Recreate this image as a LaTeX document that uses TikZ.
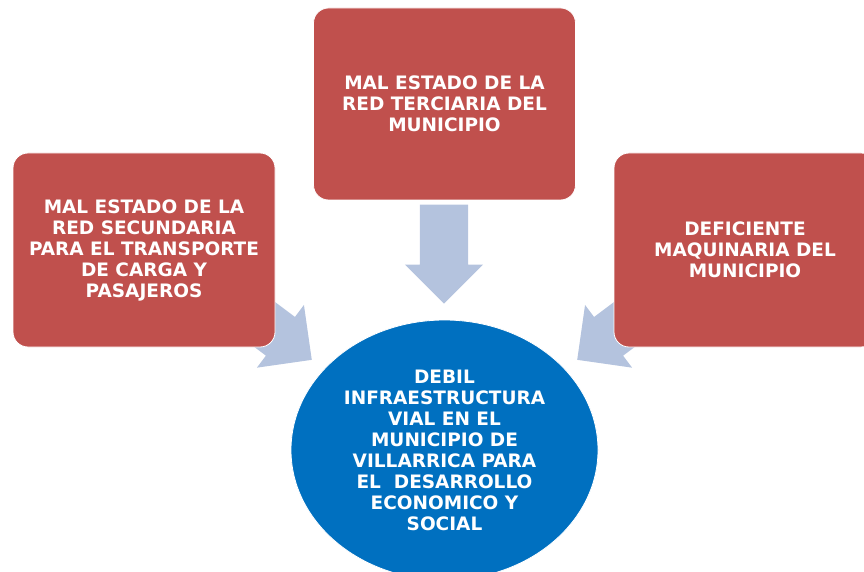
\documentclass[tikz,border=0pt]{standalone}
\usepackage{fontspec}
\setmainfont{DejaVu Sans}
\usetikzlibrary{shapes.geometric}
\usetikzlibrary{shapes.arrows}
\definecolor{boxred}{HTML}{C0504D}
\definecolor{ellblue}{HTML}{0070C0}
\definecolor{arrblue}{HTML}{B4C3DE}

\begin{document}
\begin{tikzpicture}[x=1pt,y=1pt]
			\tikzset{
				causenode/.style={rectangle, rounded corners=15pt, draw=white, thick, fill=boxred, text=white, inner sep=0pt, minimum width=262pt, minimum height=194pt, align=center, font=\bfseries\fontsize{18.5}{21}\selectfont},
				effectnode/.style={ellipse, draw=white, thick, fill=ellblue, text=white, inner sep=0pt, minimum width=307pt, minimum height=260pt, align=center, font=\bfseries\fontsize{18.5}{21}\selectfont},
				blockarrow/.style={single arrow, fill=arrblue, inner xsep=0pt, inner ysep=24pt, minimum height=99pt, minimum width=78pt, single arrow head extend=15pt, single arrow head indent=0pt, anchor=tip},
			}
			\useasboundingbox (0,0) rectangle (864,571);
			% arrows first, the boxes cover their tails
			\node[blockarrow, rotate=-90] (arrtop) at (444,267) {};
			\node[blockarrow, rotate=-36.87] (arrleft) at (312,211) {};
			\node[blockarrow, rotate=-143.13] (arrright) at (577,211) {};

			\node[causenode, minimum height=192pt] (terciaria) at (444.5,467) {MAL ESTADO DE LA\\RED TERCIARIA DEL\\MUNICIPIO};
			\node[causenode] (secundaria) at (144,321) {MAL ESTADO DE LA\\RED SECUNDARIA\\PARA EL TRANSPORTE\\DE CARGA Y\\PASAJEROS};
			\node[causenode] (maquinaria) at (745,321) {DEFICIENTE\\MAQUINARIA DEL\\MUNICIPIO};

			\node[effectnode] (infra) at (444.5,121) {DEBIL\\INFRAESTRUCTURA\\VIAL EN EL\\MUNICIPIO DE\\VILLARRICA PARA\\EL\ \ DESARROLLO\\ECONOMICO Y\\SOCIAL};
		\end{tikzpicture}
\end{document}
